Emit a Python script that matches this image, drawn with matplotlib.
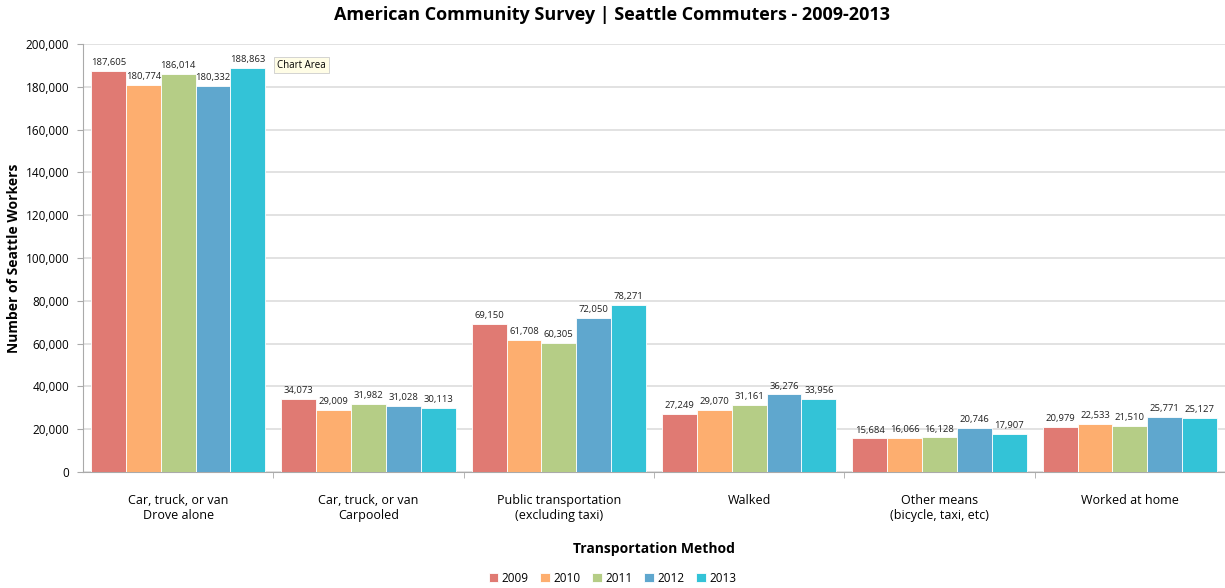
import matplotlib
matplotlib.use("Agg")
import matplotlib.pyplot as plt
import numpy as np
from matplotlib.ticker import FuncFormatter

categories = ["Car, truck, or van\nDrove alone", "Car, truck, or van\nCarpooled",
              "Public transportation\n(excluding taxi)", "Walked",
              "Other means\n(bicycle, taxi, etc)", "Worked at home"]
years = ["2009", "2010", "2011", "2012", "2013"]
v2009 = [187605, 34073, 69150, 27249, 15684, 20979]
v2010 = [180774, 29009, 61708, 29070, 16066, 22533]
v2011 = [186014, 31982, 60305, 31161, 16128, 21510]
v2012 = [180332, 31028, 72050, 36276, 20746, 25771]
v2013 = [188863, 30113, 78271, 33956, 17907, 25127]
series = [v2009, v2010, v2011, v2012, v2013]
colors = ["#E07A73", "#FDAE6F", "#B5CD86", "#5FA7CE", "#33C3D7"]

plt.rcParams['font.family'] = ['Open Sans', 'DejaVu Sans']

fig = plt.figure(figsize=(12.25, 5.88), dpi=100)
ax = fig.add_axes([83/1225, 1-472/588, 1-83/1225, (472-44)/588])

n = len(categories)
x = np.arange(n)
bw = 0.183
for i, (vals, c, yr) in enumerate(zip(series, colors, years)):
    pos = x + (i - 2) * bw
    ax.bar(pos, vals, width=bw, color=c, edgecolor="white", linewidth=0.6, label=yr, zorder=3)
    for p, v in zip(pos, vals):
        ax.text(p, v + 1800, f"{v:,}", ha="center", va="bottom", fontsize=6.8, color="#222222", zorder=4)

ax.set_xlim(-0.5, n - 0.5)
ax.set_ylim(0, 200000)
ax.set_yticks(np.arange(0, 200001, 20000))
ax.yaxis.set_major_formatter(FuncFormatter(lambda v, p: f"{int(v):,}"))
ax.tick_params(axis="y", labelsize=8.5, length=4, color="#aaaaaa", pad=6)
ax.set_xticks(x)
ax.set_xticklabels(categories, fontsize=9)
ax.tick_params(axis="x", length=0, pad=16)
ax.set_xticks(np.arange(0.5, n - 0.5, 1), minor=True)
ax.tick_params(axis="x", which="minor", length=4, color="#aaaaaa")

ax.grid(axis="y", color="#dddddd", linewidth=1.2, zorder=0)
for s in ["top", "right"]:
    ax.spines[s].set_visible(False)
ax.spines["left"].set_color("#aaaaaa")
ax.spines["bottom"].set_color("#aaaaaa")

fig.text(14/1225, 1 - 258/588, "Number of Seattle Workers", rotation=90, ha="center", va="center",
         fontsize=10, fontweight="bold")
ax.set_xlabel("Transportation Method", fontsize=10, fontweight="bold", labelpad=14)
fig.text(0.5, 1 - 15/588, "American Community Survey | Seattle Commuters - 2009-2013",
         ha="center", va="center", fontsize=13, fontweight="bold")

ax.legend(loc="center", bbox_to_anchor=(0.5, 1 - 578/588), bbox_transform=fig.transFigure,
          ncol=5, frameon=False, fontsize=8.5, handlelength=0.8, handleheight=0.8,
          handletextpad=0.3, columnspacing=1.0)

fig.text(277/1225, 1 - 65/588, "Chart Area", fontsize=7, ha="left", va="center",
         bbox=dict(boxstyle="square,pad=0.3", facecolor="#FFFDE6", edgecolor="#cccccc", linewidth=0.6))

fig.savefig("out.png", dpi=100)
